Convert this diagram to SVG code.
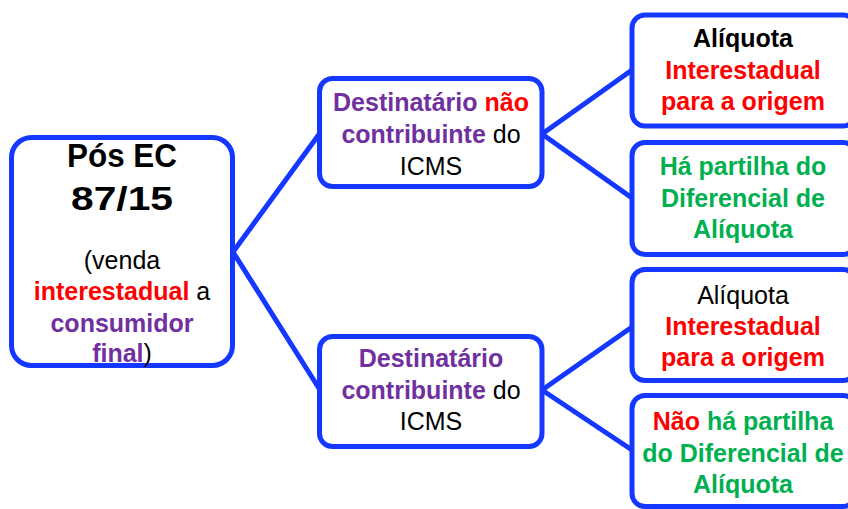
<svg xmlns="http://www.w3.org/2000/svg" width="848" height="509" viewBox="0 0 848 509">
<style>
.box{fill:#fff;stroke:#1438ff;stroke-width:5}
.con{stroke:#1438ff;stroke-width:5;fill:none;stroke-linecap:round}
text{font-family:"Liberation Sans",Arial,sans-serif;font-size:25px;text-anchor:middle;fill:#000}
.b{font-weight:bold}
.pu{fill:#7030a0;font-weight:bold}
.rd{fill:#ff0000;font-weight:bold}
.gr{fill:#00b050;font-weight:bold}
.big{font-size:34px;font-weight:bold}
</style>
<rect width="848" height="509" fill="#fff"/>
<g id="connectors">
<line class="con" x1="233" y1="252" x2="320" y2="133"/>
<line class="con" x1="233" y1="252" x2="320" y2="390"/>
<line class="con" x1="542" y1="134" x2="632" y2="70"/>
<line class="con" x1="542" y1="134" x2="632" y2="198"/>
<line class="con" x1="542" y1="390" x2="632" y2="327"/>
<line class="con" x1="542" y1="390" x2="632" y2="450"/>
</g>
<g id="root">
<rect class="box" x="11.5" y="137.5" width="221" height="228" rx="20"/>
<text class="big" x="122" y="167" textLength="110" lengthAdjust="spacingAndGlyphs">Pós EC</text>
<text class="big" x="122" y="210" textLength="102" lengthAdjust="spacingAndGlyphs">87/15</text>
<text x="122" y="268.5">(venda</text>
<text x="122" y="300"><tspan class="rd">interestadual</tspan> a</text>
<text class="pu" x="122" y="331.5">consumidor</text>
<text x="122" y="362"><tspan class="pu">final</tspan>)</text>
</g>
<g id="nao-contribuinte">
<rect class="box" x="319.5" y="78.5" width="222.5" height="108" rx="13"/>
<text x="431" y="111"><tspan class="pu">Destinatário</tspan> <tspan class="rd">não</tspan></text>
<text x="431" y="142.5"><tspan class="pu">contribuinte</tspan> do</text>
<text x="431" y="175">ICMS</text>
</g>
<g id="contribuinte">
<rect class="box" x="319.5" y="336.5" width="222.5" height="110" rx="13"/>
<text class="pu" x="431" y="367">Destinatário</text>
<text x="431" y="398.5"><tspan class="pu">contribuinte</tspan> do</text>
<text x="431" y="430">ICMS</text>
</g>
<g id="aliquota-1">
<rect class="box" x="632" y="15" width="224" height="111" rx="13"/>
<text class="b" x="743" y="47">Alíquota</text>
<text class="rd" x="743" y="78.5">Interestadual</text>
<text class="rd" x="743" y="110">para a origem</text>
</g>
<g id="partilha">
<rect class="box" x="632" y="142.5" width="224" height="112" rx="13"/>
<text class="gr" x="743" y="175">Há partilha do</text>
<text class="gr" x="743" y="206.5">Diferencial de</text>
<text class="gr" x="743" y="237.5">Alíquota</text>
</g>
<g id="aliquota-2">
<rect class="box" x="632" y="269.5" width="224" height="111" rx="13"/>
<text x="743" y="303.5">Alíquota</text>
<text class="rd" x="743" y="335">Interestadual</text>
<text class="rd" x="743" y="366">para a origem</text>
</g>
<g id="sem-partilha">
<rect class="box" x="632" y="395.5" width="224" height="111" rx="13"/>
<text x="743" y="430"><tspan class="rd">Não</tspan> <tspan class="gr">há partilha</tspan></text>
<text class="gr" x="743" y="461.5">do Diferencial de</text>
<text class="gr" x="743" y="492.5">Alíquota</text>
</g>
</svg>
